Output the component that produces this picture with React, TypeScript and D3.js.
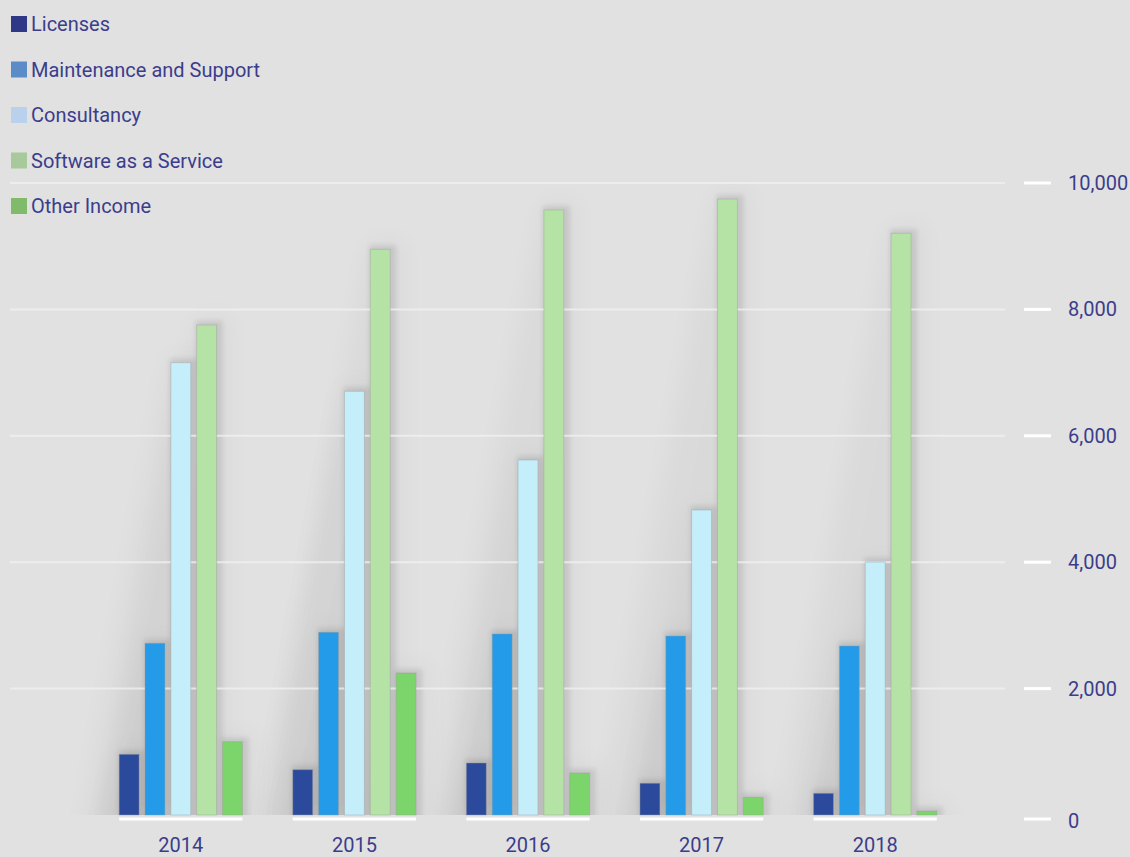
import React from "react";
import * as d3 from "d3";

const years = ["2014", "2015", "2016", "2017", "2018"];
const seriesNames = ["Licenses", "Maintenance and Support", "Consultancy", "Software as a Service", "Other Income"];
const licenses = [960, 717, 823, 502, 343];
const maintenance = [2717, 2891, 2864, 2832, 2674];
const consultancy = [7157, 6704, 5617, 4826, 4003];
const saas = [7753, 8951, 9573, 9747, 9204];
const otherIncome = [1160, 2247, 665, 280, 63];
const yTicks = [0, 2000, 4000, 6000, 8000, 10000];

const barColors = ["#2c4a9c", "#249be8", "#c5eefb", "#b5e3a6", "#7bd56a"];
const legendColors = ["#2f3887", "#5b8cc8", "#b9d1ec", "#a8c99c", "#80bb6c"];
const TEXT = "#3b3d8c";

export default function App() {
  const W = 1130, H = 857;
  const base = 815;
  const y = d3.scaleLinear().domain([0, 10000]).range([base, 183]);
  const x0 = d3.scaleBand().domain(years).range([94, 962]).paddingInner(0.29).paddingOuter(0.145);
  const x1 = d3.scaleBand().domain(seriesNames).range([0, x0.bandwidth()]).paddingInner(0.23);
  const allSeries = [licenses, maintenance, consultancy, saas, otherIncome];
  const fmt = d3.format(",");

  const bars: { x: number; w: number; top: number; color: string; key: string }[] = [];
  years.forEach((yr, i) => {
    seriesNames.forEach((s, j) => {
      const v = allSeries[j][i];
      bars.push({ x: (x0(yr) as number) + (x1(s) as number), w: x1.bandwidth(), top: y(v), color: barColors[j], key: yr + s });
    });
  });

  return (
    <svg width={W} height={H} style={{ display: "block", position: "absolute", left: 0, top: 0, background: "#e1e1e1" }}
      fontFamily="Roboto, sans-serif">
      <defs>
        <filter id="blurBig" x="-50%" y="-50%" width="200%" height="200%">
          <feGaussianBlur stdDeviation="12" />
        </filter>
        <filter id="blurSmall" x="-50%" y="-50%" width="200%" height="200%">
          <feGaussianBlur stdDeviation="2.5" />
        </filter>
        <clipPath id="plotClip">
          <rect x={0} y={0} width={1010} height={base} />
        </clipPath>
      </defs>
      <rect x={0} y={0} width={W} height={H} fill="#e1e1e1" />
      {/* shadows */}
      <g clipPath="url(#plotClip)">
        {bars.map((b) => {
          const h = base - b.top;
          const pts = [
            [b.x + b.w + 14, b.top - 12],
            [b.x + b.w + 14, base + 20],
            [b.x - 0.18 * h - 10, base + 20],
            [b.x - 2, b.top - 8],
          ];
          return (
            <polygon key={"sb" + b.key} points={pts.map((p) => p.join(",")).join(" ")} fill="#000" opacity={0.028} filter="url(#blurBig)" />
          );
        })}
        {bars.map((b) => (
          <rect key={"ss" + b.key} x={b.x - 1} y={b.top - 4} width={b.w + 7} height={base - b.top + 10} fill="#000" opacity={0.09} filter="url(#blurSmall)" />
        ))}
      </g>
      {/* gridlines */}
      {yTicks.filter((t) => t > 0).map((t) => (
        <line key={"g" + t} x1={10} x2={1005} y1={y(t)} y2={y(t)} stroke="#f2f2f2" strokeWidth={2} opacity={0.75} />
      ))}
      {/* bars */}
      {bars.map((b) => (
        <rect key={"b" + b.key} x={b.x} y={b.top} width={b.w} height={base - b.top} fill={b.color} stroke="#9a9a9a" strokeOpacity={0.4} strokeWidth={1} />
      ))}
      {/* group underlines */}
      {years.map((yr) => (
        <line key={"u" + yr} x1={x0(yr) as number} x2={(x0(yr) as number) + x0.bandwidth()} y1={819} y2={819} stroke="#ffffff" strokeWidth={3} />
      ))}
      {/* x labels */}
      {years.map((yr) => (
        <text key={"xl" + yr} x={(x0(yr) as number) + x0.bandwidth() / 2} y={852} textAnchor="middle" fontSize={20} fill={TEXT}>{yr}</text>
      ))}
      {/* y axis ticks */}
      {yTicks.map((t) => (
        <g key={"yt" + t}>
          <line x1={1024} x2={1051} y1={t === 0 ? 819 : y(t)} y2={t === 0 ? 819 : y(t)} stroke="#ffffff" strokeWidth={3} />
          <text x={1068} y={t === 0 ? 821 : y(t)} dy="0.35em" fontSize={20} fill={TEXT}>{fmt(t)}</text>
        </g>
      ))}
      {/* legend */}
      {seriesNames.map((s, i) => (
        <g key={"lg" + s} transform={`translate(11, ${16 + i * 45.5})`}>
          <rect x={0} y={0} width={16} height={16} fill={legendColors[i]} />
          <text x={20} y={8} dy="0.35em" fontSize={20} fill={TEXT}>{s}</text>
        </g>
      ))}
    </svg>
  );
}
